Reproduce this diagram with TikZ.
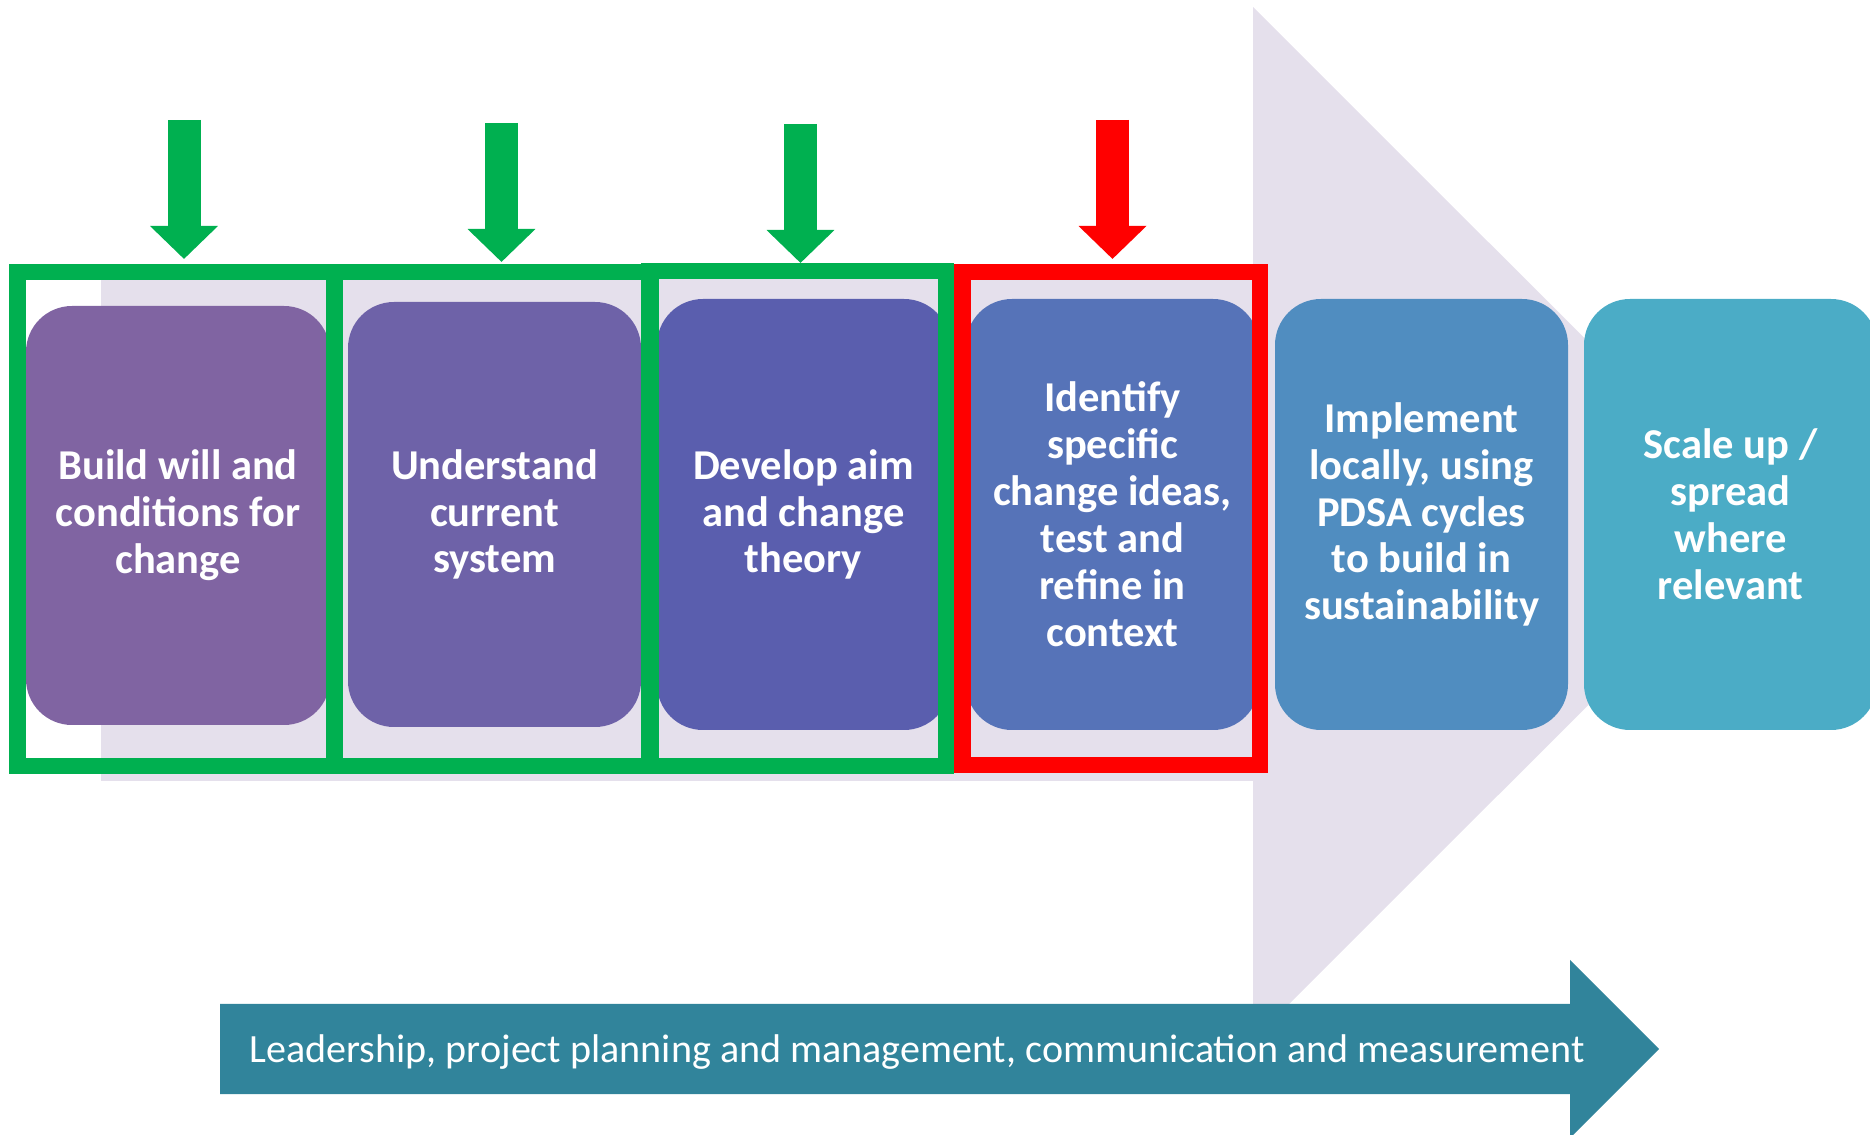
\documentclass[tikz,border=0pt]{standalone}
\usepackage{fontspec}
\setmainfont{Carlito}
\usepackage{tikz}
\usetikzlibrary{%
	arrows.meta,%
	shapes%
}
\definecolor{lavender}{HTML}{E5E0EC}
\definecolor{okgreen}{HTML}{00B050}
\definecolor{stopred}{HTML}{FF0000}
\definecolor{basebar}{HTML}{31849B}
\definecolor{stageA}{HTML}{8064A2}
\definecolor{stageB}{HTML}{6E62A8}
\definecolor{stageC}{HTML}{5A5EAE}
\definecolor{stageD}{HTML}{5673B8}
\definecolor{stageE}{HTML}{508DC0}
\definecolor{stageF}{HTML}{4BACC6}

\begin{document}
\begin{tikzpicture}[
		stage/.style={rounded corners=0.46cm, text=white, align=center,
			minimum width=2.93cm, minimum height=4.31cm, inner sep=0pt,
			font=\fontsize{12.1}{13.35}\selectfont\bfseries},
		hilite/.style={line width=0.165cm, inner sep=0pt},
		pointer/.style={line width=0.33cm, -{Triangle[length=0.33cm,width=0.66cm]}}
	]
	\useasboundingbox (0,0) rectangle (18.70,11.34);
	
	% Big arrow behind the stages
	\fill[lavender] (1.01,3.53) -- (12.53,3.53) -- (12.53,0.94) -- (17.70,6.105)
		-- (12.53,11.27) -- (12.53,8.66) -- (1.01,8.66) -- cycle;
	
	% Stages
	\node[stage, fill=stageA, minimum width=3.04cm, minimum height=4.19cm] (s1) at (1.78,6.185) {Build will and\\conditions for\\change};
	\node[stage, fill=stageB, minimum height=4.25cm] (s2) at (4.945,6.195) {Understand\\current\\system};
	\node[stage, fill=stageC] (s3) at (8.035,6.195) {Develop aim\\and change\\theory};
	\node[stage, fill=stageD] (s4) at (11.125,6.195) {Identify\\specific\\change ideas,\\test and\\refine in\\context};
	\node[stage, fill=stageE] (s5) at (14.215,6.195) {Implement\\locally, using\\PDSA cycles\\to build in\\sustainability};
	\node[stage, fill=stageF] (s6) at (17.305,6.195) {Scale up /\\spread\\where\\relevant};
	
	% Frames round the stages
	\node[hilite, draw=okgreen, minimum width=3.175cm, minimum height=4.94cm] (f1) at (1.7625,6.15) {};
	\node[hilite, draw=okgreen, minimum width=3.16cm, minimum height=4.94cm] (f2) at (4.9225,6.15) {};
	\node[hilite, draw=okgreen, minimum width=2.965cm, minimum height=4.95cm] (f3) at (7.975,6.156) {};
	\node[hilite, draw=stopred, minimum width=2.975cm, minimum height=4.93cm] (f4) at (11.11,6.1525) {};
	
	% Arrows pointing down at the frames
	\coordinate (a1) at (1.84,10.14);
	\coordinate (b1) at (1.84,8.75);
	\coordinate (a2) at (5.015,10.11);
	\coordinate (b2) at (5.015,8.72);
	\coordinate (a3) at (8.005,10.10);
	\coordinate (b3) at (8.005,8.71);
	\coordinate (a4) at (11.125,10.14);
	\coordinate (b4) at (11.125,8.75);
	\draw[pointer, okgreen] (a1) -- (b1);
	\draw[pointer, okgreen] (a2) -- (b2);
	\draw[pointer, okgreen] (a3) -- (b3);
	\draw[pointer, stopred] (a4) -- (b4);
	
	% Arrow along the bottom
	\fill[basebar] (2.20,0.40) -- (15.70,0.40) -- (15.70,-0.04) -- (16.59,0.85)
		-- (15.70,1.74) -- (15.70,1.30) -- (2.20,1.30) -- cycle;
	\node[anchor=west, inner sep=0pt, text=white, font=\fontsize{11.4}{13}\selectfont] (lead) at (2.49,0.82) {Leadership, project planning and management, communication and measurement};
\end{tikzpicture}
\end{document}
